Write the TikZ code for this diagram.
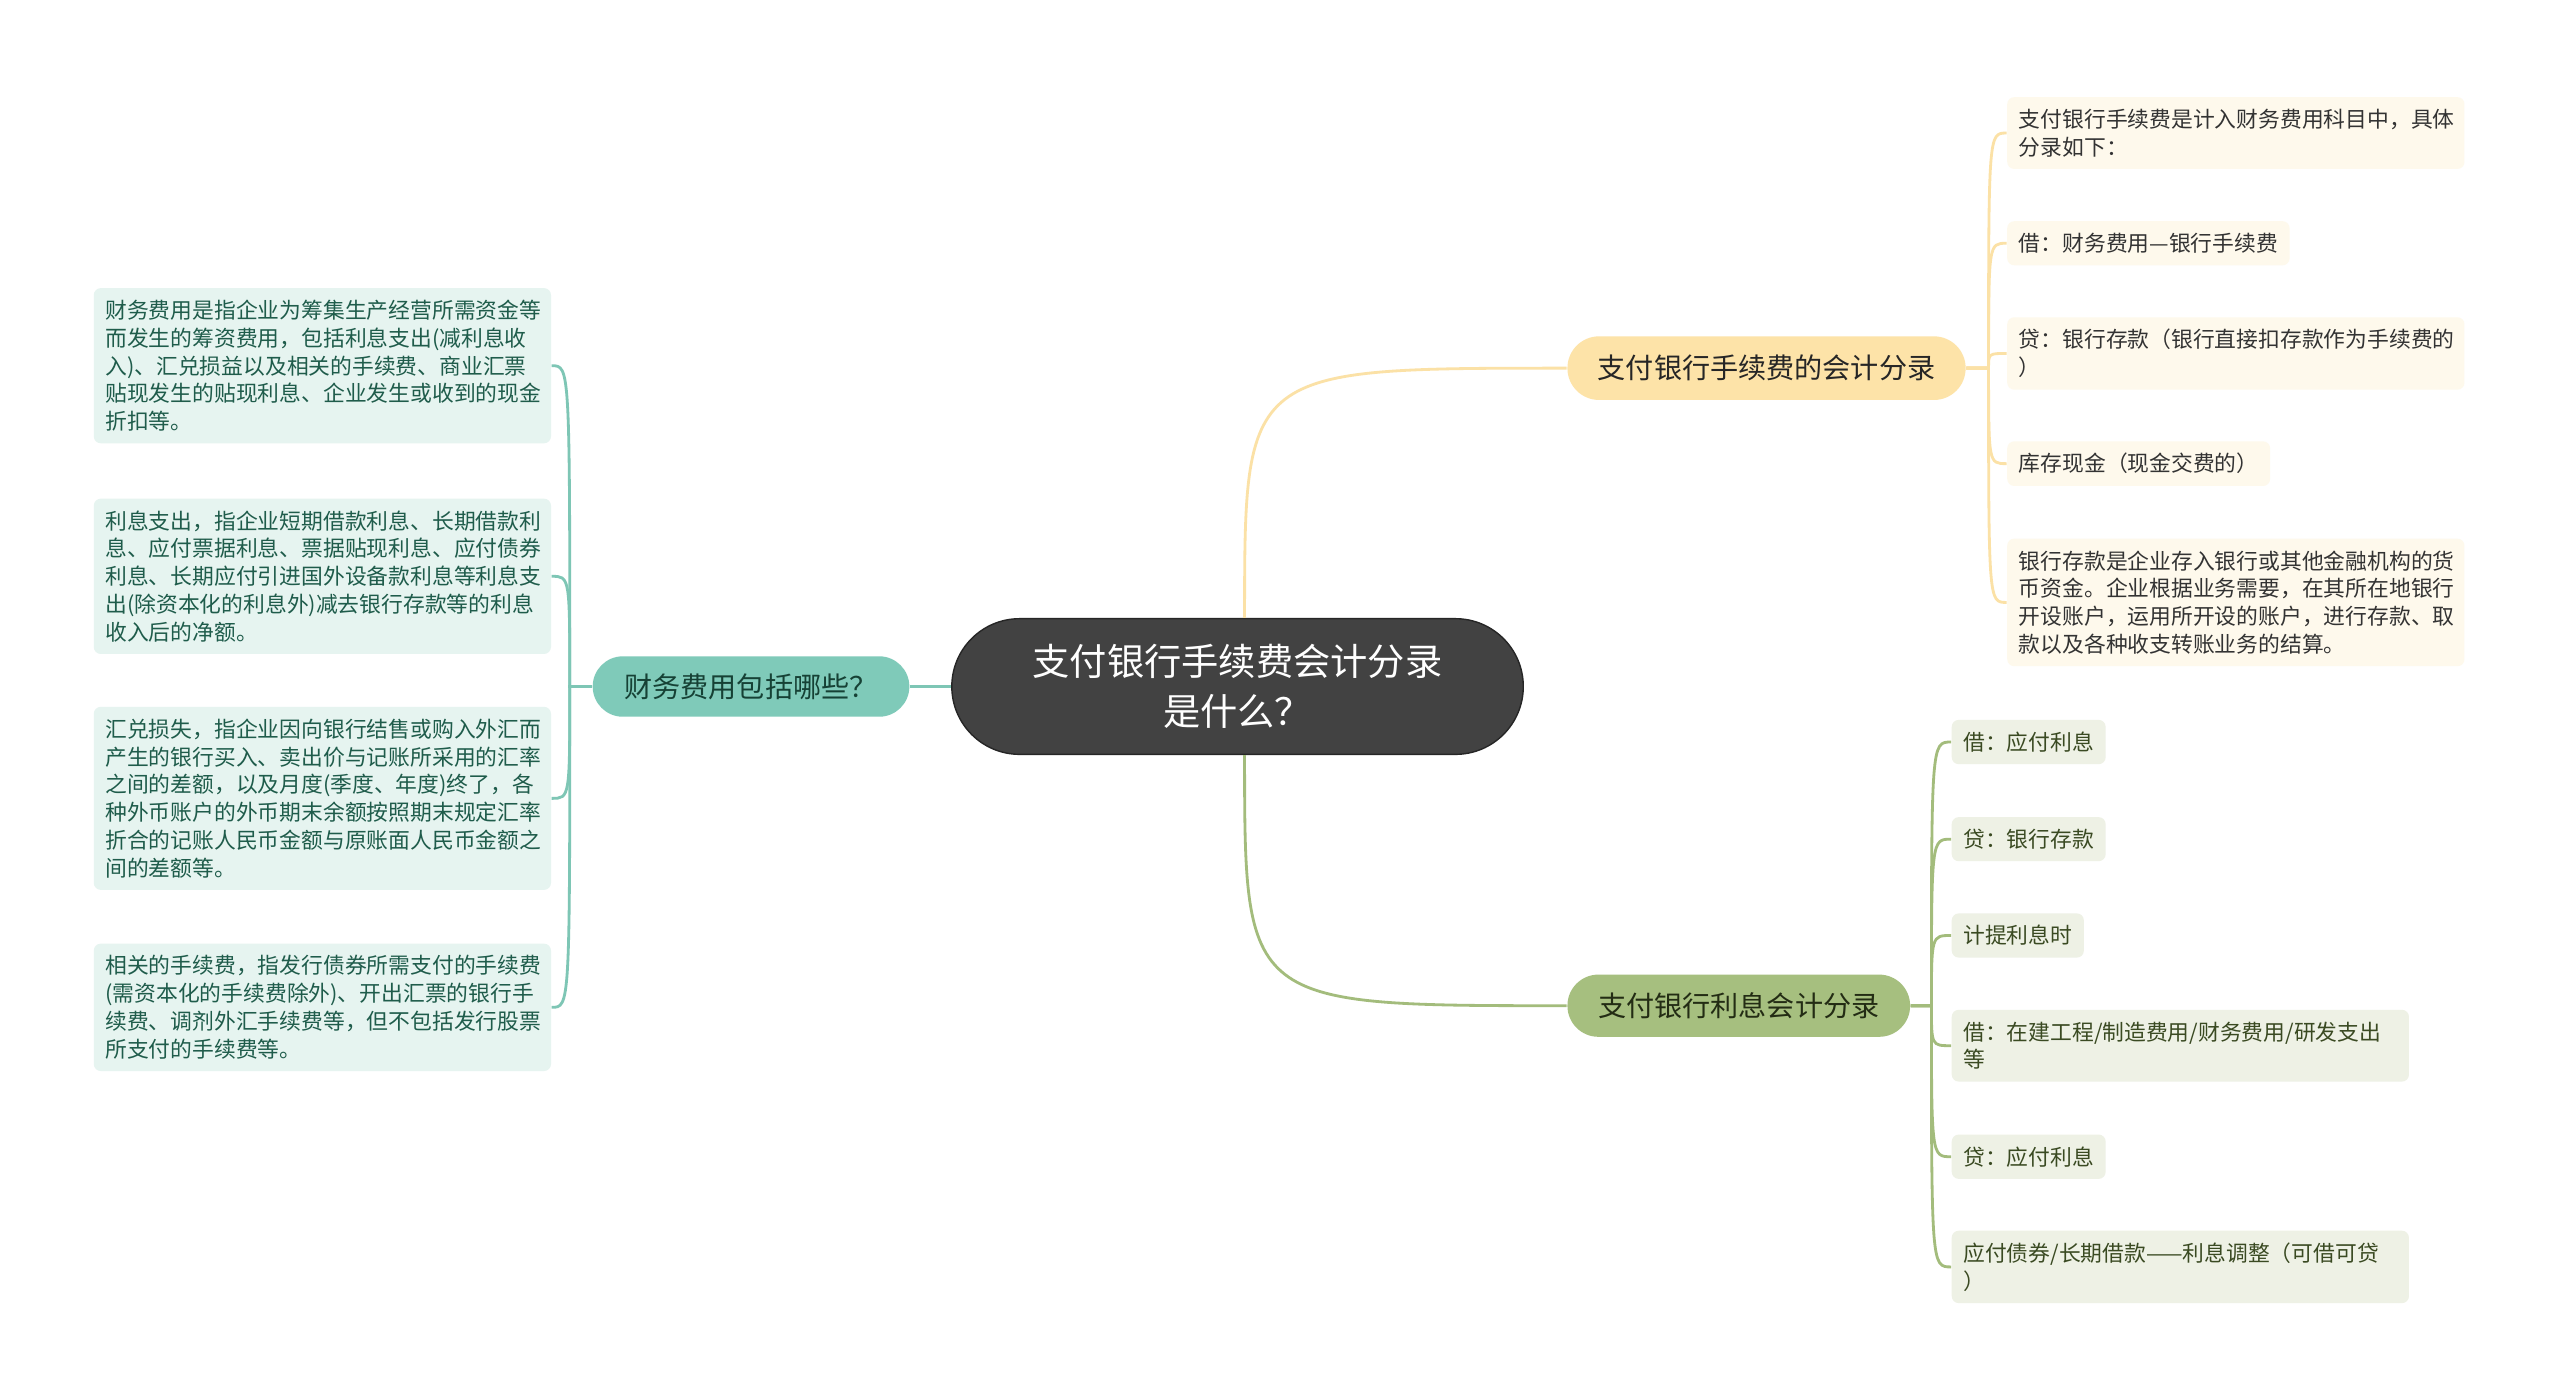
\documentclass[tikz,border=0pt]{standalone}
\usepackage{fontspec}
\newfontfamily\cjk{Noto Sans CJK SC}

\definecolor{rootfill}{HTML}{424242}
\definecolor{tealfill}{HTML}{7FCAB9}
\definecolor{tealleaffill}{HTML}{E6F4F0}
\definecolor{tealtext}{HTML}{1F5C4B}
\definecolor{tealline}{HTML}{7EC6B5}
\definecolor{yellowfill}{HTML}{FDE3A8}
\definecolor{yellowleaffill}{HTML}{FEF9EC}
\definecolor{yellowline}{HTML}{FBE1A6}
\definecolor{olivefill}{HTML}{A6BF7F}
\definecolor{oliveleaffill}{HTML}{EEF1E5}
\definecolor{olivetext}{HTML}{3A4A22}
\definecolor{oliveline}{HTML}{A3BC7C}

\begin{document}
\begin{tikzpicture}[x=0.016327cm,y=-0.016327cm,
	leaf/.style={anchor=west,rounded corners=2pt,inner xsep=3.3pt,inner ysep=3.4pt,align=left,font=\cjk\fontsize{6.2pt}{7.9pt}\selectfont},
	wide/.style={text width=123.5pt},
	tealleaf/.style={leaf,fill=tealleaffill,text=tealtext},
	yellowleaf/.style={leaf,fill=yellowleaffill,text=black!80},
	oliveleaf/.style={leaf,fill=oliveleaffill,text=olivetext},
	branch/.style={inner sep=0pt,align=center,font=\cjk\fontsize{8pt}{10pt}\selectfont},
	con/.style={line width=0.8pt}]
	\fill[white] (0,0) rectangle (1568,857.5);
	\useasboundingbox (0,0) rectangle (1568,857.5);

	\node (root) at (758,420.5) [fill=rootfill,draw=black!85,line width=0.4pt,text=white,minimum width=162.6pt,minimum height=38.6pt,rounded corners=19.3pt,align=center,font=\cjk\fontsize{10.6pt}{14.4pt}\selectfont] {支付银行手续费会计分录\\是什么？};

	\node (lbranch) at (460,420.5) [branch,fill=tealfill,text=tealtext!70!black,minimum width=90.1pt,minimum height=17.2pt,rounded corners=8.6pt] {财务费用包括哪些？};
	\node (tbranch) at (1082,225.5) [branch,fill=yellowfill,text=black!85,minimum width=113.3pt,minimum height=18.1pt,rounded corners=9pt] {支付银行手续费的会计分录};
	\node (bbranch) at (1065,616) [branch,fill=olivefill,text=olivetext!60!black,minimum width=97.5pt,minimum height=17.7pt,rounded corners=8.8pt] {支付银行利息会计分录};

	% left leaves
	\node (l1) at (57,224) [tealleaf,wide] {财务费用是指企业为筹集生产经营所需资金等\\而发生的筹资费用，包括利息支出(减利息收\\入)、汇兑损益以及相关的手续费、商业汇票\\贴现发生的贴现利息、企业发生或收到的现金\\折扣等。};
	\node (l2) at (57,353) [tealleaf,wide] {利息支出，指企业短期借款利息、长期借款利\\息、应付票据利息、票据贴现利息、应付债券\\利息、长期应付引进国外设备款利息等利息支\\出(除资本化的利息外)减去银行存款等的利息\\收入后的净额。};
	\node (l3) at (57,489) [tealleaf,wide] {汇兑损失，指企业因向银行结售或购入外汇而\\产生的银行买入、卖出价与记账所采用的汇率\\之间的差额，以及月度(季度、年度)终了，各\\种外币账户的外币期末余额按照期末规定汇率\\折合的记账人民币金额与原账面人民币金额之\\间的差额等。};
	\node (l4) at (57,617) [tealleaf,wide] {相关的手续费，指发行债券所需支付的手续费\\(需资本化的手续费除外)、开出汇票的银行手\\续费、调剂外汇手续费等，但不包括发行股票\\所支付的手续费等。};

	% top right leaves
	\node (r1) at (1229,81.5) [yellowleaf,wide] {支付银行手续费是计入财务费用科目中，具体\\分录如下：};
	\node (r2) at (1229,149) [yellowleaf] {借：财务费用—银行手续费};
	\node (r3) at (1229,216.5) [yellowleaf,wide] {贷：银行存款（银行直接扣存款作为手续费的\\）};
	\node (r4) at (1229,284) [yellowleaf] {库存现金（现金交费的）};
	\node (r5) at (1229,369) [yellowleaf,wide] {银行存款是企业存入银行或其他金融机构的货\\币资金。企业根据业务需要，在其所在地银行\\开设账户，运用所开设的账户，进行存款、取\\款以及各种收支转账业务的结算。};

	% bottom right leaves
	\node (g1) at (1195,454.5) [oliveleaf] {借：应付利息};
	\node (g2) at (1195,514) [oliveleaf] {贷：银行存款};
	\node (g3) at (1195,573) [oliveleaf] {计提利息时};
	\node (g4) at (1195,640.5) [oliveleaf,wide] {借：在建工程/制造费用/财务费用/研发支出\\等};
	\node (g5) at (1195,708.5) [oliveleaf] {贷：应付利息};
	\node (g6) at (1195,776) [oliveleaf,wide] {应付债券/长期借款——利息调整（可借可贷\\）};

	\coordinate (lspine) at (349,420.5);
	\coordinate (tspine) at (1218,225.5);
	\coordinate (bspine) at (1183,616);

	\draw[con,tealline] (lbranch.east) -- (root.west);
	\draw[con,yellowline] ([xshift=2pt]root.north) .. controls ([xshift=2pt]root.north |- tbranch.west) .. (tbranch.west);
	\draw[con,oliveline] ([xshift=2pt]root.south) .. controls ([xshift=2pt]root.south |- bbranch.west) .. (bbranch.west);

	\foreach \n in {l1,l2,l3,l4}
		\draw[con,tealline] (lbranch.west) -- (lspine) .. controls (lspine |- \n.east) .. (\n.east);
	\foreach \n in {r1,r2,r3,r4,r5}
		\draw[con,yellowline] (tbranch.east) -- (tspine) .. controls (tspine |- \n.west) .. (\n.west);
	\foreach \n in {g1,g2,g3,g4,g5,g6}
		\draw[con,oliveline] (bbranch.east) -- (bspine) .. controls (bspine |- \n.west) .. (\n.west);
\end{tikzpicture}
\end{document}
